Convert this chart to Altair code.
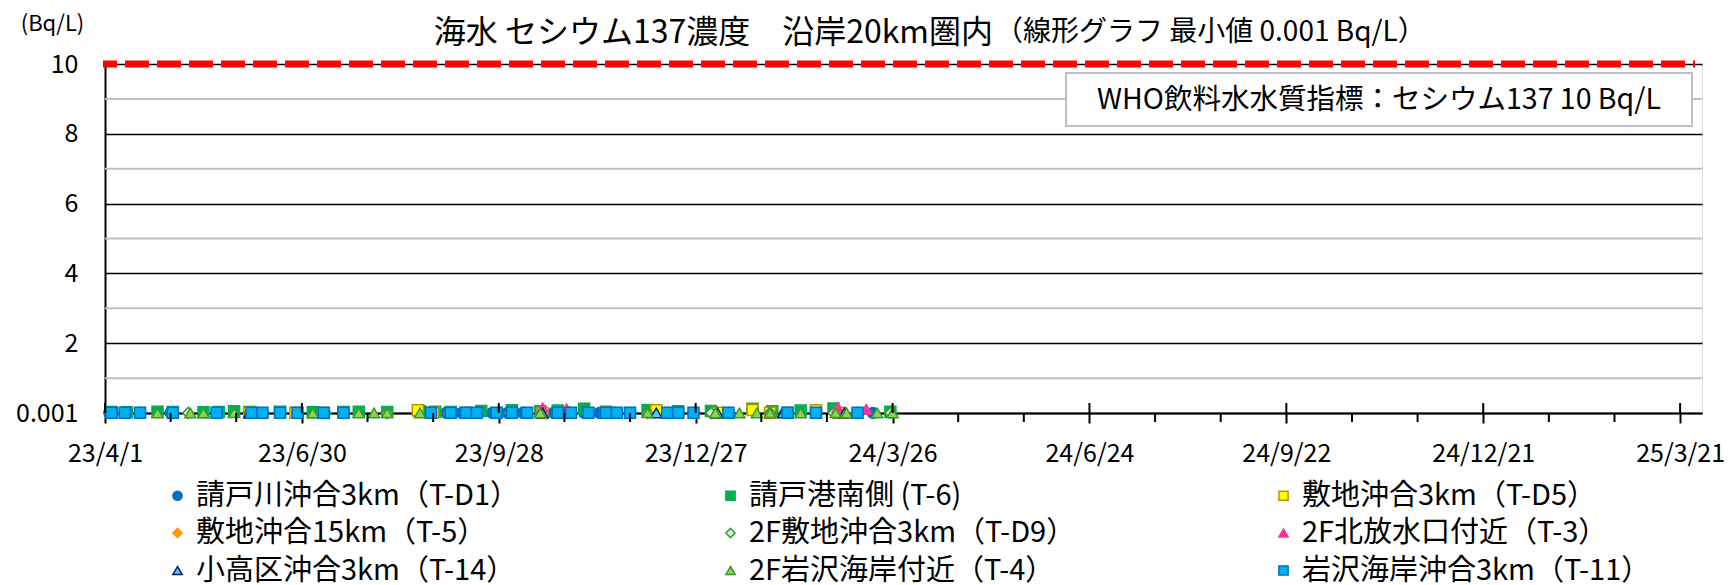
import altair as alt
import pandas as pd

FONT = "Noto Sans CJK JP"

# ---------------- data ----------------
series = ["請戸川沖合3km（T-D1）", "請戸港南側 (T-6)", "敷地沖合3km（T-D5）",
          "敷地沖合15km（T-5）", "2F敷地沖合3km（T-D9）", "2F北放水口付近（T-3）",
          "小高区沖合3km（T-14）", "2F岩沢海岸付近（T-4）", "岩沢海岸沖合3km（T-11）"]
shapes = ["circle", "square", "square", "diamond", "diamond",
          "triangle-up", "triangle-up", "triangle-up", "square"]
fills = ["#0070C0", "#00B050", "#FFFF00", "#FF9900", "#E2F0D9",
         "#FF3399", "#5BC8F5", "#92D050", "#00B0F0"]
strokes = ["#0070C0", "#00B050", "#BF9000", "#FF9900", "#339933",
           "#FF3399", "#002060", "#339933", "#0070C0"]

d1_dates = ["2023/04/03", "2023/04/10", "2023/04/17", "2023/05/01", "2023/05/22", "2023/06/06",
            "2023/06/12", "2023/06/20", "2023/07/10", "2023/07/19", "2023/08/28", "2023/09/04",
            "2023/09/11", "2023/09/18", "2023/09/25", "2023/10/02", "2023/10/09", "2023/10/23",
            "2023/10/30", "2023/11/06", "2023/11/13", "2023/11/20", "2023/11/27", "2023/12/14",
            "2023/12/19", "2023/12/26", "2024/01/11", "2024/02/06", "2024/02/20", "2024/03/10",
            "2024/03/17"]
d1_vals = [0.004, 0.003, 0.005, 0.004, 0.003, 0.006, 0.004, 0.005, 0.003, 0.004, 0.006, 0.005,
           0.004, 0.005, 0.003, 0.004, 0.006, 0.004, 0.005, 0.003, 0.004, 0.005, 0.004, 0.003,
           0.005, 0.004, 0.003, 0.004, 0.005, 0.004, 0.003]

t6_dates = ["2023/04/04", "2023/04/11", "2023/04/25", "2023/05/02", "2023/05/16", "2023/05/23",
            "2023/05/30", "2023/06/06", "2023/06/20", "2023/07/05", "2023/07/19", "2023/07/26",
            "2023/08/08", "2023/08/23", "2023/08/30", "2023/09/06", "2023/09/20", "2023/10/04",
            "2023/10/17", "2023/10/25", "2023/11/06", "2023/11/16", "2023/12/05", "2023/12/19",
            "2024/01/03", "2024/01/22", "2024/01/31", "2024/02/13", "2024/02/28", "2024/03/25"]
t6_vals = [0.03, 0.02, 0.04, 0.03, 0.02, 0.03, 0.05, 0.03, 0.04, 0.02, 0.03, 0.04,
           0.03, 0.05, 0.04, 0.03, 0.06, 0.08, 0.05, 0.07, 0.12, 0.04, 0.09, 0.05,
           0.06, 0.12, 0.05, 0.07, 0.13, 0.04]

d5_dates = ["2023/06/06", "2023/06/27", "2023/07/10", "2023/08/22", "2023/08/29", "2023/09/13",
            "2023/10/18", "2023/10/28", "2023/11/16", "2023/12/09", "2024/01/06", "2024/01/22",
            "2024/01/30", "2024/02/07", "2024/02/20", "2024/03/02"]
d5_vals = [0.005, 0.006, 0.004, 0.08, 0.005, 0.006, 0.004, 0.005, 0.006, 0.08, 0.006, 0.09,
           0.005, 0.006, 0.08, 0.005]

t5_dates = ["2023/06/06", "2023/07/10", "2023/08/08", "2023/09/06", "2023/10/04", "2023/11/08",
            "2023/12/14", "2024/01/11", "2024/02/07", "2024/03/10"]
t5_vals = [0.002, 0.003, 0.002, 0.003, 0.002, 0.003, 0.002, 0.003, 0.002, 0.003]

d9_dates = ["2023/04/11", "2023/05/09", "2023/06/06", "2023/07/11", "2023/08/08", "2023/09/05",
            "2023/10/03", "2023/11/07", "2023/12/05", "2024/01/03", "2024/01/30", "2024/02/28",
            "2024/03/25"]
d9_vals = [0.004, 0.003, 0.005, 0.004, 0.003, 0.004, 0.005, 0.003, 0.004, 0.005, 0.004, 0.003, 0.004]

t3_dates = ["2023/10/18", "2023/10/29", "2024/03/01", "2024/03/14"]
t3_vals = [0.15, 0.12, 0.16, 0.11]

t14_dates = ["2023/06/06", "2023/09/06", "2023/10/18", "2023/10/29", "2023/12/09", "2024/01/06",
             "2024/02/05", "2024/03/04"]
t14_vals = [0.003, 0.004, 0.003, 0.004, 0.003, 0.004, 0.003, 0.004]

t4_dates = ["2023/04/25", "2023/05/10", "2023/05/16", "2023/05/30", "2023/07/05", "2023/07/26",
            "2023/08/02", "2023/08/08", "2023/08/23", "2023/10/17", "2023/12/05", "2024/01/05",
            "2024/01/16", "2024/01/24", "2024/01/30", "2024/02/13", "2024/02/20", "2024/02/29",
            "2024/03/05", "2024/03/19", "2024/03/26"]
t4_vals = [0.003, 0.004, 0.003, 0.005, 0.004, 0.003, 0.004, 0.005, 0.003, 0.004, 0.005, 0.003,
           0.004, 0.003, 0.005, 0.004, 0.003, 0.006, 0.004, 0.003, 0.004]

t11_dates = ["2023/04/04", "2023/04/10", "2023/04/17", "2023/05/02", "2023/05/22", "2023/06/07",
             "2023/06/12", "2023/06/20", "2023/06/28", "2023/07/10", "2023/07/19", "2023/08/28",
             "2023/09/06", "2023/09/13", "2023/09/18", "2023/09/27", "2023/10/04", "2023/10/11",
             "2023/10/25", "2023/10/31", "2023/11/08", "2023/11/16", "2023/11/21", "2023/11/27",
             "2023/12/14", "2023/12/19", "2023/12/26", "2024/01/11", "2024/02/07", "2024/02/20",
             "2024/03/10"]
t11_vals = [0.006, 0.005, 0.007, 0.006, 0.005, 0.007, 0.006, 0.005, 0.006, 0.007, 0.005, 0.006,
            0.007, 0.005, 0.006, 0.007, 0.005, 0.006, 0.007, 0.005, 0.006, 0.007, 0.005, 0.006,
            0.007, 0.005, 0.006, 0.007, 0.005, 0.006, 0.007]

all_dates = [d1_dates, t6_dates, d5_dates, t5_dates, d9_dates, t3_dates, t14_dates, t4_dates, t11_dates]
all_vals = [d1_vals, t6_vals, d5_vals, t5_vals, d9_vals, t3_vals, t14_vals, t4_vals, t11_vals]

major_ticks = ["2023/04/01", "2023/06/30", "2023/09/28", "2023/12/27", "2024/03/26",
               "2024/06/24", "2024/09/22", "2024/12/21", "2025/03/21"]
minor_ticks = ["2023/05/01", "2023/05/31", "2023/07/30", "2023/08/29", "2023/10/28",
               "2023/11/27", "2024/01/26", "2024/02/25", "2024/04/25", "2024/05/25",
               "2024/07/24", "2024/08/23", "2024/10/22", "2024/11/21", "2025/01/20",
               "2025/02/19"]
y_labels = [0.001, 2, 4, 6, 8, 10]
minor_y = [1, 3, 5, 7, 9]
who_limit = [10]

title_main = "海水 セシウム137濃度　沿岸20km圏内"
title_sub = "（線形グラフ 最小値 0.001 Bq/L）"
who_text = "WHO飲料水水質指標：セシウム137 10 Bq/L"

# ---------------- build tables ----------------
rows = []
k = 0
for s, ds, vs in zip(series, all_dates, all_vals):
    for d, v in zip(ds, vs):
        rows.append({"series": s, "date": d, "value": v, "ord": k})
        k += 1
df = pd.DataFrame(rows)

W, H = 1597, 349

def dt(s):
    y, m, d = s.split("/")
    return alt.DateTime(year=int(y), month=int(m), date=int(d))

xscale = alt.Scale(domain=[dt("2023/04/01"), dt("2025/03/31")], nice=False)
yscale = alt.Scale(domain=[0.001, 10], nice=False, zero=False)

leg = alt.Legend(
    title=None, orient="none", legendX=58, legendY=417, columns=3, direction="horizontal",
    gridAlign="all", columnPadding=171, rowPadding=7.5, labelFontSize=29, labelFont=FONT,
    labelColor="black", labelLimit=600, symbolSize=85, symbolStrokeWidth=1.5,
    labelOffset=4, padding=0,
)

points = alt.Chart(df).mark_point(filled=True, size=121, strokeWidth=1.5, opacity=1).encode(
    x=alt.X("date:T", scale=xscale, title=None,
            axis=alt.Axis(values=[dt(s) for s in major_ticks], format="%y/%-m/%-d",
                          labelFont=FONT, labelFontSize=25, labelColor="black",
                          labelFlush=False, labelOverlap=False, labelPadding=18,
                          tickSize=10, tickWidth=2, tickColor="black",
                          domainColor="black", domainWidth=2, grid=False)),
    y=alt.Y("value:Q", scale=yscale, title="(Bq/L)",
            axis=alt.Axis(values=y_labels,
                          labelExpr="datum.value < 0.01 ? '0.001' : format(datum.value, 'd')",
                          labelFont=FONT, labelFontSize=25, labelColor="black",
                          labelPadding=27, ticks=False, labelOverlap=False,
                          domainColor="black", domainWidth=2,
                          grid=True, gridColor="black", gridWidth=1.5,
                          titleAngle=0, titleFont=FONT, titleFontSize=22,
                          titleFontWeight="normal", titleColor="black",
                          titleAlign="center", titleBaseline="middle",
                          titleX=-53, titleY=-41)),
    fill=alt.Fill("series:N", scale=alt.Scale(domain=series, range=fills), legend=leg),
    stroke=alt.Stroke("series:N", scale=alt.Scale(domain=series, range=strokes), legend=leg),
    shape=alt.Shape("series:N", scale=alt.Scale(domain=series, range=shapes), legend=leg),
    order=alt.Order("ord:Q"),
)

minor_grid = alt.Chart(pd.DataFrame({"value": minor_y})).mark_rule(
    color="#BFBFBF", strokeWidth=2).encode(y=alt.Y("value:Q", scale=yscale))

tick_in = alt.Chart(pd.DataFrame({"date": major_ticks})).mark_rule(
    color="black", strokeWidth=2).encode(
    x=alt.X("date:T", scale=xscale), y=alt.value(H - 10), y2=alt.value(H))

tick_minor = alt.Chart(pd.DataFrame({"date": minor_ticks})).mark_rule(
    color="black", strokeWidth=2).encode(
    x=alt.X("date:T", scale=xscale), y=alt.value(H), y2=alt.value(H + 9))

red = alt.Chart(pd.DataFrame({"value": who_limit})).mark_rule(
    color="#FF0000", strokeWidth=7, strokeDash=[24, 8], strokeDashOffset=10, strokeCap="butt").encode(
    y=alt.Y("value:Q", scale=yscale), x=alt.value(-2), x2=alt.value(1590))

who_df = pd.DataFrame({"t": [who_text]})
who_box = alt.Chart(who_df).mark_rect(fill="white", stroke="#BFBFBF", strokeWidth=2).encode(
    x=alt.value(961), x2=alt.value(1587), y=alt.value(9), y2=alt.value(62))
who_lbl = alt.Chart(who_df).mark_text(font=FONT, fontSize=28.5, color="black",
                                      align="center", baseline="middle").encode(
    x=alt.value(1274), y=alt.value(36), text="t:N")

t1 = alt.Chart(pd.DataFrame({"t": [title_main]})).mark_text(
    font=FONT, fontSize=32, color="black", align="right", baseline="middle").encode(
    x=alt.value(888), y=alt.value(-31), text="t:N")
t2 = alt.Chart(pd.DataFrame({"t": [title_sub]})).mark_text(
    font=FONT, fontSize=28, color="black", align="left", baseline="middle").encode(
    x=alt.value(890), y=alt.value(-31), text="t:N")

chart = alt.layer(minor_grid, points, tick_in, tick_minor, red, who_box, who_lbl, t1, t2).properties(
    width=W, height=H,
    autosize=alt.AutoSizeParams(type="none"),
    padding={"left": 97, "top": 56, "right": 23, "bottom": 172},
).configure_view(stroke="black", strokeWidth=2).configure(background="white")

chart.save("out.html", embed_options={"renderer": "svg", "actions": False})
